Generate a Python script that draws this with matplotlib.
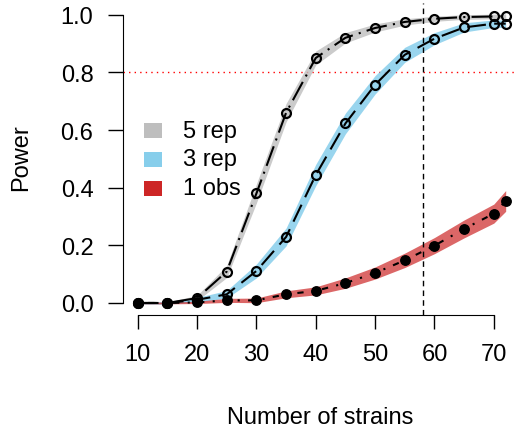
import matplotlib
matplotlib.use("Agg")
import matplotlib.pyplot as plt
from matplotlib.patches import Rectangle

plt.rcParams['font.family'] = ['Liberation Sans', 'DejaVu Sans']

strains = [10, 15, 20, 25, 30, 35, 40, 45, 50, 55, 60, 65, 70, 72]

power_5rep = [0.0, 0.0, 0.017, 0.109, 0.38, 0.66, 0.85, 0.92, 0.954, 0.975, 0.986, 0.992, 0.994, 0.995]
power_3rep = [0.0, 0.0, 0.011, 0.03, 0.111, 0.229, 0.444, 0.623, 0.757, 0.861, 0.917, 0.956, 0.969, 0.969]
power_1obs = [0.0, 0.0, 0.002, 0.009, 0.009, 0.03, 0.042, 0.069, 0.104, 0.148, 0.199, 0.257, 0.31, 0.354]

# half widths of the shaded bands
hw_5rep = [0.004, 0.004, 0.009, 0.021, 0.033, 0.032, 0.024, 0.018, 0.014, 0.011, 0.009, 0.008, 0.008, 0.008]
hw_3rep = [0.004, 0.004, 0.008, 0.013, 0.024, 0.031, 0.037, 0.036, 0.032, 0.026, 0.021, 0.016, 0.013, 0.013]
hw_1obs = [0.003, 0.003, 0.004, 0.007, 0.008, 0.012, 0.014, 0.018, 0.021, 0.025, 0.028, 0.031, 0.033, 0.036]

labels = ['5 rep', '3 rep', '1 obs']
colors = ['#BEBEBE', '#87CEEB', '#CD2626']

fig = plt.figure(figsize=(5.15, 4.31), dpi=100)
ax = fig.add_axes([123/515, 115.5/431, 397.4/515, 311.3/431])

series = [power_5rep, power_3rep, power_1obs]
widths = [hw_5rep, hw_3rep, hw_1obs]
alphas = [0.8, 0.85, 0.7]
for y, hw, c, a in zip(series, widths, colors, alphas):
    lo = [v - w for v, w in zip(y, hw)]
    hi = [v + w for v, w in zip(y, hw)]
    ax.fill_between(strains, lo, hi, color=c, alpha=a, lw=0, zorder=1)

ax.axhline(0.8, color='red', ls=(0, (1, 3)), lw=1, zorder=0)
ax.axvline(58, color='black', ls=(0, (4, 3)), lw=1, zorder=2)

ax.plot(strains, power_1obs, color='black', lw=1.5, ls=(0, (1, 4, 3, 4)),
        marker='o', ms=6.8, mfc='black', mec='black', zorder=3)
ax.plot(strains, power_3rep, color='black', lw=1.5, ls=(0, (9, 4)),
        marker='o', ms=6.4, mfc='none', mec='black', mew=1.6, zorder=4)
ax.plot(strains, power_5rep, color='black', lw=1.5, ls=(0, (10, 3, 1, 3)),
        marker='o', ms=6.4, mfc='none', mec='black', mew=1.6, zorder=5)

# legend
for i, (lab, c) in enumerate(zip(labels, colors)):
    yc = 0.598 - i * 0.1
    ax.add_patch(Rectangle((11.0, yc - 0.026), 3.05, 0.052, color=c, lw=0, zorder=6))
    ax.text(17.6, yc, lab, fontsize=17, va='center', ha='left', zorder=6)

ax.set_xlim(7.52, 74.48)
ax.set_ylim(-0.04, 1.04)
ax.set_xticks([10, 20, 30, 40, 50, 60, 70])
ax.set_yticks([0.0, 0.2, 0.4, 0.6, 0.8, 1.0])
ax.set_yticklabels(['0.0', '0.2', '0.4', '0.6', '0.8', '1.0'])
for s in ['top', 'right']:
    ax.spines[s].set_visible(False)
ax.spines['left'].set_bounds(0, 1)
ax.spines['bottom'].set_bounds(10, 70)
ax.tick_params(axis='x', length=10, width=1, pad=10.7, labelsize=17)
ax.tick_params(axis='y', length=10.5, width=1, pad=10.8, labelsize=17)
ax.patch.set_alpha(0)

fig.text(320 / 515, 1 - 418 / 431, 'Number of strains', ha='center', va='center', fontsize=17)
fig.text(21 / 515, 1 - 158 / 431, 'Power', ha='center', va='center', rotation=90, fontsize=17)

fig.savefig('out.png', dpi=100)
